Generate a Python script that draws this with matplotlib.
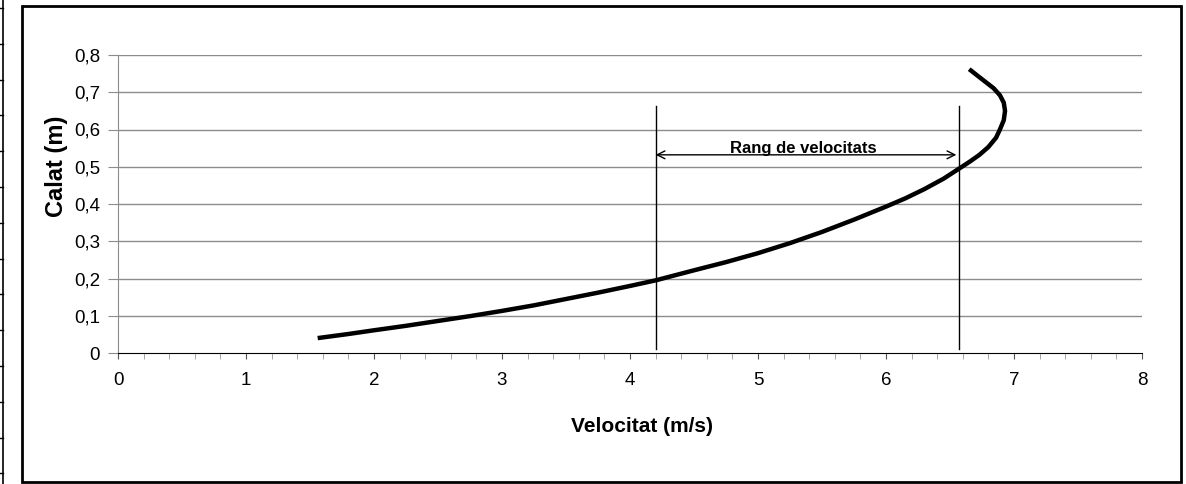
import numpy as np
import matplotlib
matplotlib.use("Agg")
import matplotlib.pyplot as plt
from matplotlib.lines import Line2D
from matplotlib.patches import Rectangle

plt.rcParams['font.family'] = ['Liberation Sans', 'DejaVu Sans']

# corba calat - velocitat
velocitat = [1.56, 1.8, 2.0, 2.25, 2.5, 2.75, 3.0, 3.25, 3.5, 3.75, 4.0, 4.2,
             4.5, 4.75, 5.0, 5.25, 5.5, 5.75, 6.0, 6.15, 6.3, 6.45, 6.58,
             6.66, 6.73, 6.80, 6.86, 6.89, 6.92, 6.93, 6.92, 6.89, 6.84,
             6.75, 6.65]
calat = [0.040, 0.051, 0.061, 0.073, 0.086, 0.099, 0.113, 0.128, 0.145,
         0.162, 0.180, 0.195, 0.222, 0.244, 0.268, 0.295, 0.325, 0.358,
         0.393, 0.415, 0.440, 0.468, 0.497, 0.515, 0.532, 0.553, 0.578,
         0.600, 0.625, 0.650, 0.672, 0.692, 0.711, 0.735, 0.762]

# rang de velocitats
v_min = 4.2
v_max = 6.57
rang_alt = 0.663
fletxa_y = 0.532
rang_text = "Rang de velocitats"

x_ticks = [0, 1, 2, 3, 4, 5, 6, 7, 8]
x_labels = ['0', '1', '2', '3', '4', '5', '6', '7', '8']
y_ticks = [0, 0.1, 0.2, 0.3, 0.4, 0.5, 0.6, 0.7, 0.8]
y_labels = ['0', '0,1', '0,2', '0,3', '0,4', '0,5', '0,6', '0,7', '0,8']

W, H = 1186, 484
fig = plt.figure(figsize=(W / 100, H / 100), dpi=100)
ax = fig.add_axes([118 / W, 1 - 353 / H, 1024 / W, 298 / H])

ax.plot(velocitat, calat, color='black', lw=3.2, solid_capstyle='butt',
        solid_joinstyle='round', zorder=4)

# linies verticals i fletxa
ax.plot([v_min, v_min], [0.01, rang_alt], color='black', lw=1.0, zorder=3)
ax.plot([v_max, v_max], [0.01, rang_alt], color='black', lw=1.0, zorder=3)
ax.annotate('', xy=(v_min, fletxa_y), xytext=(v_max - 0.02, fletxa_y),
            arrowprops=dict(arrowstyle='<->', color='black', lw=1.0,
                            shrinkA=0, shrinkB=0, mutation_scale=14))
ax.text((v_min + v_max) / 2 - 0.03, fletxa_y - 0.004, rang_text, ha='center', va='bottom',
        fontsize=12, fontweight='bold')

ax.set_xlim(0, 8)
ax.set_ylim(0, 0.8)
ax.set_xticks(x_ticks)
ax.set_xticklabels(x_labels)
ax.set_xticks(np.arange(0, 8.01, 0.2), minor=True)
ax.set_yticks(y_ticks)
ax.set_yticklabels(y_labels)

for y in y_ticks[1:]:
    ax.axhline(y, color='#8c8c8c', lw=1.0, zorder=1)

ax.spines['top'].set_visible(False)
ax.spines['right'].set_visible(False)
ax.spines['left'].set_color('#8c8c8c')
ax.spines['bottom'].set_color('black')
ax.tick_params(axis='y', length=7, color='#8c8c8c', labelsize=13.5, pad=6)
ax.tick_params(axis='x', which='major', length=4, color='#555555', labelsize=13.5, pad=10)
ax.tick_params(axis='x', which='minor', length=4, color='#999999')

fig.text(642 / W, 1 - 427 / H, 'Velocitat (m/s)', ha='center', va='center',
         fontsize=15, fontweight='bold')
fig.text(57 / W, 1 - 166 / H, 'Calat (m)', ha='center', va='center', rotation=90,
         fontsize=17, fontweight='bold')

# marc del grafic
fig.patches.append(Rectangle((22 / W, 2 / H), 1159 / W, 476 / H, transform=fig.transFigure,
                             fill=False, edgecolor='black', lw=2.0))

# vora de la taula de l'esquerra
fig.lines.append(Line2D([3 / W, 3 / W], [0, 1], transform=fig.transFigure,
                        color='black', lw=1.2))
for yp in np.arange(8, 484, 35.8):
    fig.lines.append(Line2D([0, 3 / W], [1 - yp / H, 1 - yp / H], transform=fig.transFigure,
                            color='black', lw=1.0))

fig.savefig('out.png', dpi=100)
